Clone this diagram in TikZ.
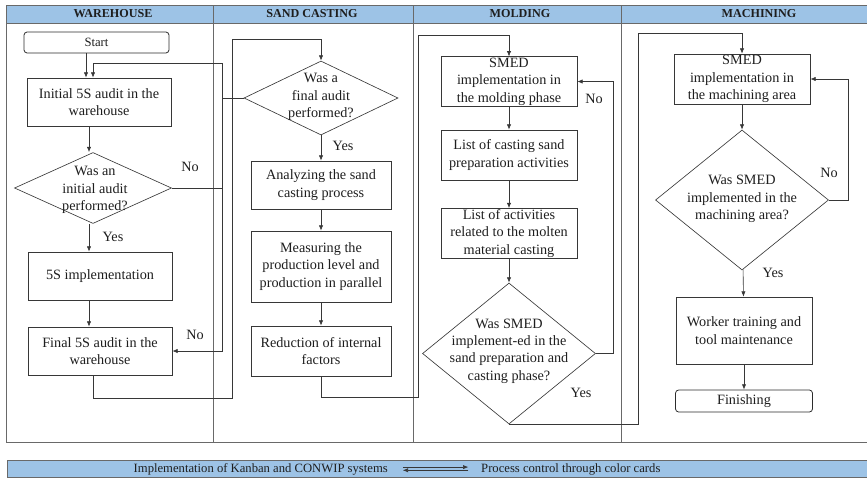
\documentclass[tikz,border=0pt]{standalone}
\usepackage{fontspec}
\setmainfont{Liberation Serif}
\usetikzlibrary{shapes.geometric,arrows.meta}

\definecolor{laneblue}{RGB}{157,195,230}
\definecolor{linegray}{RGB}{55,55,55}
\definecolor{framegray}{RGB}{105,105,105}
\definecolor{inkdark}{RGB}{30,30,30}

\newlength\pxu
\setlength\pxu{0.3333mm}

\tikzset{
    procbox/.style 2 args={draw=linegray, line width=0.6pt, fill=white, align=center,
        inner sep=1pt, text=inkdark, minimum width=#1*\pxu, minimum height=#2*\pxu},
    termbox/.style 2 args={draw=linegray!80!black, line width=0.75pt, fill=white, align=center,
        inner sep=1pt, text=inkdark, minimum width=#1*\pxu, minimum height=#2*\pxu,
        rounded corners=3pt},
    decision/.style 2 args={draw=linegray, line width=0.6pt, fill=white, diamond,
        inner sep=0pt, minimum width=#1*\pxu, minimum height=#2*\pxu},
    dtext/.style={align=center, text=inkdark, inner sep=0pt},
    lanehead/.style={font=\fontsize{11.5}{13}\selectfont\bfseries, text=inkdark},
    bartext/.style={font=\fontsize{12}{13}\selectfont, text=inkdark, inner sep=0pt},
    tag/.style={text=inkdark, inner sep=1pt},
    flow/.style={draw=linegray, line width=0.6pt, -{Latex[length=5pt,width=4pt]}},
}

\begin{document}
\begin{tikzpicture}[x=\pxu, y=-\pxu, font=\fontsize{13.5}{16.5}\selectfont]
    \useasboundingbox (0,0) rectangle (867,479);
    \clip (0,0) rectangle (867,479);

    % swimlanes
    \fill[laneblue] (6,5) rectangle (890,23);
    \draw[framegray, line width=0.8pt] (6,5) rectangle (890,442);
    \draw[framegray, line width=0.8pt] (6,23) -- (890,23);
    \foreach \x in {213,413,621}
        \draw[framegray, line width=0.8pt] (\x,5) -- (\x,442);
    \node[lanehead] (hware) at (113,14) {WAREHOUSE};
    \node[lanehead] (hsand) at (312,14) {SAND CASTING};
    \node[lanehead] (hmold) at (520,14) {MOLDING};
    \node[lanehead] (hmach) at (759,14) {MACHINING};

    % helper points for the loops
    \coordinate (wx) at (89,0);
    \coordinate (wl) at (86,0);
    \coordinate (wr) at (93,0);
    \coordinate (lx1) at (222,63);
    \coordinate (c1) at (232,398);
    \coordinate (c2) at (232,39);
    \coordinate (c3) at (418,397);
    \coordinate (c4) at (418,35);
    \coordinate (c5) at (613,81);
    \coordinate (c7) at (638,33);
    \coordinate (c8) at (848,80);

    % warehouse
    \node[termbox={145}{21}, font=\fontsize{12}{14}\selectfont] (start) at (96.5,42.5) {Start};
    \node[procbox={144}{48}] (init) at (99,102) {Initial 5S audit in the\\warehouse};
    \node[decision={157}{71}] (d1) at (93,188) {};
    \node[dtext] (d1t) at (95,190) {Was an\\initial audit\\performed?};
    \node[procbox={144}{48}] (impl) at (100,276) {5S implementation};
    \node[procbox={144}{48}] (final) at (100,351) {Final 5S audit in the\\warehouse};

    % sand casting
    \node[decision={154}{74}] (d2) at (321,98) {};
    \node[dtext] (d2t) at (321,97) {Was a\\final audit\\performed?};
    \node[procbox={140}{48}] (analyze) at (321,185) {Analyzing the sand\\casting process};
    \node[procbox={140}{71}] (measure) at (321,266.5) {Measuring the\\production level and\\production in parallel};
    \node[procbox={140}{50}] (reduce) at (321,351) {Reduction of internal\\factors};

    % molding
    \node[procbox={136}{49}] (smed1) at (509,81.5) {SMED\\implementation in\\the molding phase};
    \node[procbox={136}{50}] (list1) at (509,155) {List of casting sand\\preparation activities};
    \node[procbox={136}{49}] (list2) at (509,233.5) {List of activities\\related to the molten\\material casting};
    \node[decision={173}{141}] (d3) at (509,353.5) {};
    \node[dtext] (d3t) at (509,351) {Was SMED\\implement-ed in the\\sand preparation and\\casting phase?};

    % machining
    \node[procbox={136}{50}] (smed2) at (742,79) {SMED\\implementation in\\the machining area};
    \node[decision={173}{140}] (d4) at (742,200) {};
    \node[dtext] (d4t) at (742,199) {Was SMED\\implemented in the\\machining area?};
    \node[procbox={136}{67}] (train) at (744,330.5) {Worker training and\\tool maintenance};
    \node[termbox={137}{22}] (finish) at (744,401) {Finishing};

    % flow
    \draw[flow] (start.south -| wl) -- (init.north -| wl);
    \draw[flow] (init.south -| wx) -- (d1.north -| wx);
    \draw[flow] (d1.south -| wx) -- (impl.north -| wx);
    \draw[flow] (impl.south -| wx) -- (final.north -| wx);
    \draw[flow] (d1.east) -| (lx1) -| (init.north -| wr);
    \draw[flow] (d2.west) -| (final.east -| lx1) -- (final.east);
    \draw[flow] (final.south -| wr) |- (c1) -- (c2) -| (d2.north);
    \draw[flow] (d2) -- (analyze);
    \draw[flow] (analyze) -- (measure);
    \draw[flow] (measure) -- (reduce);
    \draw[flow] (reduce.south) |- (c3) -- (c4) -| (smed1.north);
    \draw[flow] (smed1) -- (list1);
    \draw[flow] (list1) -- (list2);
    \draw[flow] (list2) -- (d3);
    \draw[flow] (d3.east) -| (smed1.east -| c5) -- (smed1.east);
    \draw[flow] (d3.south) -| (c7) -| (smed2.north);
    \draw[flow] (smed2) -- (d4);
    \draw[flow] (d4.east) -| (smed2.east -| c8) -- (smed2.east);
    \draw[flow] (d4) -- (train);
    \draw[flow] (train) -- (finish);

    % yes / no
    \node[tag] (no1) at (190,167) {No};
    \node[tag] (yes1) at (113,237) {Yes};
    \node[tag] (no2) at (195,335) {No};
    \node[tag] (yes2) at (343,146) {Yes};
    \node[tag] (no3) at (594,99) {No};
    \node[tag] (yes3) at (581,393) {Yes};
    \node[tag] (no4) at (829,173) {No};
    \node[tag] (yes4) at (773,273) {Yes};

    % control bar
    \draw[framegray, fill=laneblue, line width=0.8pt] (7,460) rectangle (890,477);
    \node[bartext, anchor=east] (kanban) at (388,469) {Implementation of Kanban and CONWIP systems};
    \node[bartext, anchor=west] (process) at (481,469) {Process control through color cards};
    \draw[flow, shorten <=14pt, shorten >=12pt] ([yshift=1.8pt]kanban.east) -- ([yshift=1.8pt]process.west);
    \draw[flow, shorten <=12pt, shorten >=14pt] ([yshift=-1.2pt]process.west) -- ([yshift=-1.2pt]kanban.east);
\end{tikzpicture}
\end{document}
